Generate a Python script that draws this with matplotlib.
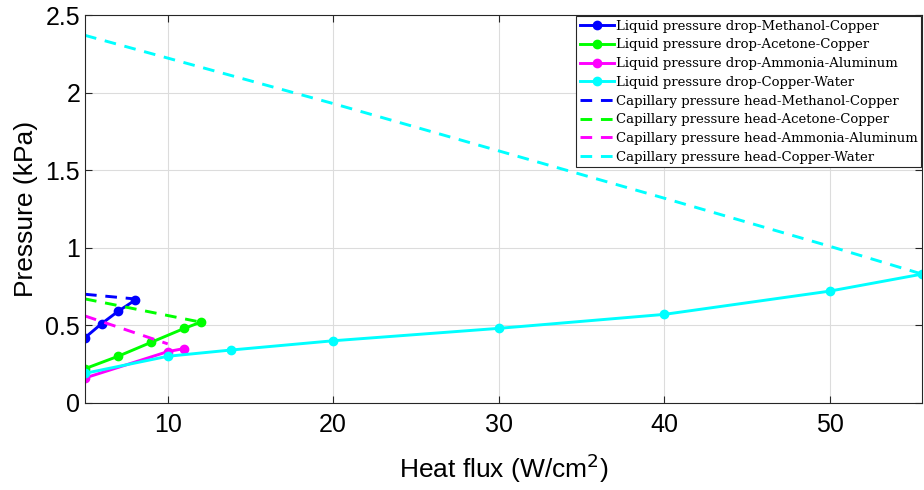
import numpy as np
import matplotlib.pyplot as plt

# Liquid pressure drop data (heat flux W/cm^2, pressure kPa)
meth_x = [5, 6, 7, 8]
meth_y = [0.42, 0.51, 0.59, 0.66]
acet_x = [5, 7, 9, 11, 12]
acet_y = [0.22, 0.30, 0.39, 0.48, 0.52]
ammo_x = [5, 10, 11]
ammo_y = [0.16, 0.33, 0.35]
water_x = [5, 10, 13.8, 20, 30, 40, 50, 55.6]
water_y = [0.19, 0.30, 0.34, 0.40, 0.48, 0.57, 0.72, 0.83]

# Capillary pressure head
cap_meth_x = [5, 8]
cap_meth_y = [0.70, 0.67]
cap_acet_x = [5, 12]
cap_acet_y = [0.67, 0.52]
cap_ammo_x = [5, 10]
cap_ammo_y = [0.56, 0.38]
cap_water_x = [5, 20, 40, 50, 55.6]
cap_water_y = [2.37, 1.93, 1.32, 1.01, 0.83]

colors = ['#0000ff', '#00ff00', '#ff00ff', '#00ffff']
names = ['Methanol-Copper', 'Acetone-Copper', 'Ammonia-Aluminum', 'Copper-Water']

plt.rcParams['font.family'] = 'Liberation Sans'

fig = plt.figure(figsize=(9.24, 4.9), dpi=100)
ax = fig.add_axes([0.092, 0.178, 0.906, 0.791])

liq = [(meth_x, meth_y), (acet_x, acet_y), (ammo_x, ammo_y), (water_x, water_y)]
cap = [(cap_meth_x, cap_meth_y), (cap_acet_x, cap_acet_y), (cap_ammo_x, cap_ammo_y), (cap_water_x, cap_water_y)]

for (x, y), c, n in zip(liq, colors, names):
    ax.plot(x, y, '-o', color=c, lw=2.1, ms=6, label='Liquid pressure drop-' + n)
for (x, y), c, n in zip(cap, colors, names):
    ax.plot(x, y, '--', color=c, lw=2.1, dashes=(4, 3), label='Capillary pressure head-' + n)

ax.set_xlim(5, 55.6)
ax.set_ylim(0, 2.5)
ax.set_xticks([10, 20, 30, 40, 50])
ax.set_yticks([0, 0.5, 1, 1.5, 2, 2.5])
ax.set_yticklabels(['0', '0.5', '1', '1.5', '2', '2.5'])
ax.grid(True, color='#dcdcdc', lw=0.8)
ax.set_axisbelow(True)
ax.tick_params(direction='in', top=True, right=True, labelsize=18, length=5, color='#262626')
ax.tick_params(axis='x', pad=7)
for s in ax.spines.values():
    s.set_color('#262626')
    s.set_linewidth(0.8)

ax.set_xlabel('Heat flux (W/cm$^2$)', fontsize=19, labelpad=11)
ax.set_ylabel('Pressure (kPa)', fontsize=19, labelpad=5)

leg = ax.legend(loc='upper right', prop={'family': 'DejaVu Serif', 'size': 9.5},
                fancybox=False, edgecolor='#262626', framealpha=1,
                borderaxespad=0.05, handlelength=2.6, handletextpad=0.1,
                labelspacing=0.43, borderpad=0.3)
leg.get_frame().set_linewidth(0.8)

fig.savefig('out.png', dpi=100)
